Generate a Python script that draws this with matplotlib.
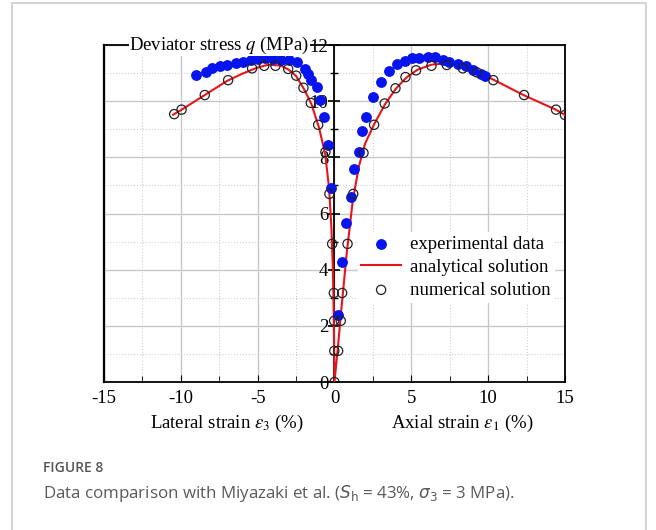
import numpy as np
import matplotlib
matplotlib.use("Agg")
import matplotlib.pyplot as plt
from matplotlib.patches import Rectangle
from matplotlib.ticker import MultipleLocator

plt.rcParams['font.family'] = ['Liberation Serif', 'DejaVu Serif']
plt.rcParams['mathtext.fontset'] = 'stix'

# experimental data, axial side (eps1, q)
exp_ax_x = [0.24, 0.5, 0.72, 1.06, 1.28, 1.6, 1.82, 2.04, 2.54, 3.06, 3.53, 4.05, 4.58,
            5.05, 5.53, 6.1, 6.57, 7.05, 7.48, 8.05, 8.57, 9.04, 9.56, 9.78]
exp_ax_q = [2.37, 4.26, 5.66, 6.58, 7.6, 8.19, 8.95, 9.44, 10.15, 10.7, 11.08, 11.31, 11.43,
            11.53, 11.53, 11.57, 11.57, 11.48, 11.41, 11.31, 11.24, 11.1, 10.98, 10.91]
# experimental data, lateral side (eps3, q)
exp_lat_x = [-9.0, -8.39, -7.96, -7.48, -7.0, -6.44, -5.92, -5.4, -4.96, -4.49, -4.01, -3.49,
             -2.93, -2.45, -1.93, -1.71, -1.5, -1.15, -0.93, -0.67, -0.41, -0.22]
exp_lat_q = [10.93, 11.05, 11.17, 11.24, 11.29, 11.36, 11.41, 11.48, 11.5, 11.53, 11.5, 11.48,
             11.46, 11.38, 11.15, 10.98, 10.77, 10.51, 10.06, 9.44, 8.45, 6.91]

# numerical solution
num_ax_x = [0.0, 0.24, 0.41, 0.5, 0.85, 1.22, 1.89, 2.58, 3.27, 3.97, 4.62, 5.31, 6.31, 7.31,
            8.35, 9.26, 10.34, 12.34, 14.42, 15.0]
num_ax_q = [0.0, 1.11, 2.18, 3.17, 4.92, 6.7, 8.16, 9.16, 9.92, 10.46, 10.86, 11.1, 11.26, 11.29,
            11.17, 11.03, 10.75, 10.22, 9.7, 9.51]
num_lat_x = [-10.43, -9.95, -8.44, -6.92, -5.36, -4.57, -3.84, -3.01, -2.49, -2.02, -1.54,
             -1.06, -0.59, -0.33, -0.15, -0.04, -0.02, -0.01]
num_lat_q = [9.54, 9.7, 10.22, 10.75, 11.17, 11.26, 11.26, 11.15, 10.91, 10.48, 9.94,
             9.16, 8.19, 6.7, 4.92, 3.17, 2.18, 1.11]

# analytical solution (lateral branch then axial branch)
ana_x = [-10.5, -10.0, -8.5, -7.0, -6.0, -5.0, -4.3, -3.5, -3.0, -2.5, -2.0, -1.5, -1.0,
         -0.6, -0.35, -0.2, -0.1, -0.05, 0.0,
         0.2, 0.45, 0.8, 1.2, 1.6, 2.0, 2.6, 3.3, 4.0, 4.7, 5.4, 6.3, 7.3, 8.4, 9.3, 10.3,
         12.3, 14.4, 15.0]
ana_q = [9.52, 9.68, 10.2, 10.72, 10.98, 11.2, 11.3, 11.27, 11.13, 10.9, 10.45, 9.9, 9.05,
         8.1, 6.9, 5.5, 4.0, 2.5, 0.0,
         1.1, 2.6, 4.6, 6.5, 7.7, 8.5, 9.2, 9.9, 10.45, 10.85, 11.12, 11.3, 11.35, 11.2, 11.05,
         10.78, 10.22, 9.7, 9.51]

fig = plt.figure(figsize=(6.56, 5.30), dpi=100)
fig.patches.append(Rectangle((12 / 656, -0.02), 634 / 656, 1.02 - 3 / 530,
                             transform=fig.transFigure, fill=False,
                             edgecolor='#cccccc', lw=1.2))

ax = fig.add_axes([0.1585, 0.2792, 0.7027, 0.6358])
ax.set_xlim(-15, 15)
ax.set_ylim(0, 12)

ax.xaxis.set_major_locator(MultipleLocator(5))
ax.xaxis.set_minor_locator(MultipleLocator(2.5))
ax.yaxis.set_major_locator(MultipleLocator(2))
ax.yaxis.set_minor_locator(MultipleLocator(1))
ax.grid(which='major', color='#c8c8c8', lw=1.0, ls='-')
ax.grid(which='minor', color='#d0d0d0', lw=0.8, ls=':')
ax.set_axisbelow(True)

ax.spines['left'].set_position(('data', 0))
ax.spines['left'].set_linewidth(1.3)
for s in ['top', 'right', 'bottom']:
    ax.spines[s].set_linewidth(1.3)
ax.axvline(-15, color='k', lw=1.6, clip_on=False)

ax.tick_params(axis='x', which='both', direction='in', top=False, labelsize=13.5, pad=6)
ax.tick_params(axis='x', which='major', length=5)
ax.tick_params(axis='x', which='minor', length=4)
ax.tick_params(axis='y', which='both', direction='inout', right=False, labelsize=13.5, pad=0)
ax.tick_params(axis='y', which='major', length=9, width=1.2)
ax.tick_params(axis='y', which='minor', length=6, width=1.0)
ax.set_xticks([-15, -10, -5, 0, 5, 10, 15])
ax.set_xticklabels(['-15', '-10', '-5', '0', '5', '10', '15'])
for lab in ax.get_yticklabels():
    if lab.get_text() == '12':
        lab.set_bbox(dict(facecolor='white', edgecolor='none', pad=0.5))

ax.plot(ana_x, ana_q, color='#e8141b', lw=1.5, zorder=3, label='analytical solution')
ax.scatter(exp_ax_x, exp_ax_q, s=46, color='#0814ee', zorder=4, label='experimental data')
ax.scatter(exp_lat_x, exp_lat_q, s=46, color='#0814ee', zorder=4)
ax.scatter(num_ax_x, num_ax_q, s=44, facecolor='none', edgecolor='#222222', lw=0.9,
           zorder=5, label='numerical solution')
ax.scatter(num_lat_x, num_lat_q, s=44, facecolor='none', edgecolor='#222222', lw=0.9, zorder=5)

h, l = ax.get_legend_handles_labels()
order = [1, 0, 2]
leg = ax.legend([h[i] for i in order], [l[i] for i in order], loc='center left',
                bbox_to_anchor=(0.53, 0.34), fontsize=13.5, frameon=True,
                handlelength=2.1, handletextpad=0.5, labelspacing=0.3, borderpad=0.2)
leg.get_frame().set_edgecolor('none')
leg.get_frame().set_facecolor('white')
leg.get_frame().set_alpha(1)

ax.text(-7.5, 12, r'Deviator stress $q$ (MPa)', ha='center', va='center', fontsize=13.5,
        bbox=dict(facecolor='white', edgecolor='none', pad=0.5), zorder=6)
ax.text(-7.0, -0.122, r'Lateral strain $\varepsilon_3$ (%)', ha='center', va='center',
        fontsize=13.5, transform=ax.get_xaxis_transform())
ax.text(8.3, -0.122, r'Axial strain $\varepsilon_1$ (%)', ha='center', va='center',
        fontsize=13.5, transform=ax.get_xaxis_transform())

fig.text(43 / 656, 1 - 468 / 530, 'FIGURE 8', ha='left', va='center', fontsize=10,
         color='#555555', family=['Open Sans', 'DejaVu Sans'], fontweight='semibold')
fig.text(43 / 656, 1 - 493 / 530,
         r'Data comparison with Miyazaki et al. ($S_{\mathrm{h}}$ = 43%, $\sigma_3$ = 3 MPa).',
         ha='left', va='center', fontsize=12.2, color='#5a5a5a',
         family=['Open Sans', 'DejaVu Sans'], math_fontfamily='dejavusans')

fig.savefig('out.png', dpi=100)
